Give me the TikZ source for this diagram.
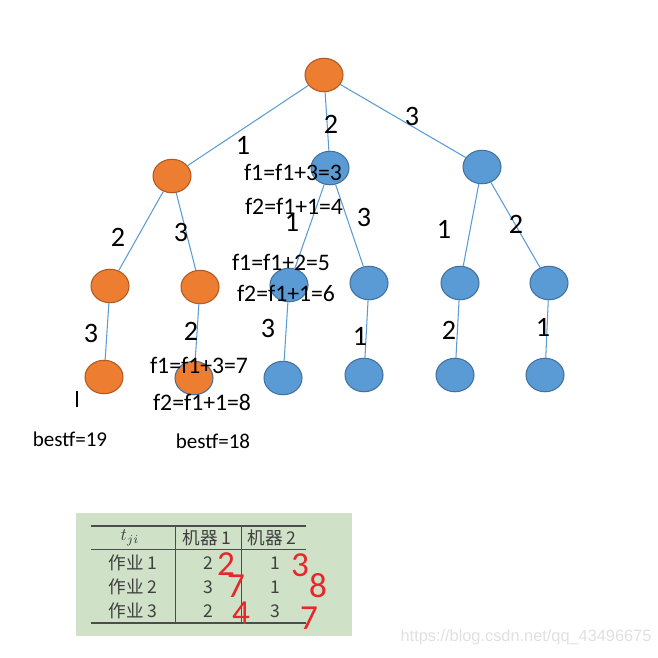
\documentclass[tikz,border=0pt]{standalone}
\usepackage{fontspec}
\setmainfont{Carlito}
\newfontfamily\cjk{Noto Sans CJK SC}
\newfontfamily\wmfont{Liberation Sans}
\usepackage{tikz}
\usetikzlibrary{shapes.geometric}

\definecolor{nodeorange}{HTML}{ED7D31}
\definecolor{edgeorange}{HTML}{AE5A21}
\definecolor{nodeblue}{HTML}{5B9BD5}
\definecolor{edgeblue}{HTML}{41719C}
\definecolor{tablegreen}{HTML}{CFE1C6}
\definecolor{inkred}{HTML}{E8262B}

\tikzset{
  onode/.style={ellipse, draw=edgeorange, fill=nodeorange, line width=0.6pt, minimum width=0.76cm, minimum height=0.67cm, inner sep=0pt},
  bnode/.style={ellipse, draw=edgeblue, fill=nodeblue, line width=0.6pt, minimum width=0.76cm, minimum height=0.67cm, inner sep=0pt},
  link/.style={draw=nodeblue, line width=0.6pt},
  weight/.style={font=\fontsize{16}{19}\selectfont, inner sep=0pt},
  calc/.style={font=\fontsize{13.5}{16}\selectfont, inner sep=0pt},
  best/.style={font=\fontsize{12}{14}\selectfont, inner sep=0pt},
  cell/.style={font=\cjk\fontsize{10}{12}\selectfont, text=black!75, inner sep=0pt},
  ink/.style={font=\fontsize{20}{22}\selectfont, text=inkred, inner sep=0pt}
}

\begin{document}
\begin{tikzpicture}[x=0.02cm, y=-0.02cm]
			\useasboundingbox (0, 0) rectangle (658, 657);
			
			% tree
			\node[onode] (r) at (324, 75) {};
			\node[onode] (a) at (172, 176) {};
			\node[bnode] (b) at (330, 168) {};
			\node[bnode] (c) at (482, 167) {};
			\node[onode] (aa) at (110, 286) {};
			\node[onode] (ab) at (200, 287) {};
			\node[bnode] (ba) at (289, 285) {};
			\node[bnode] (bb) at (369, 283) {};
			\node[bnode] (ca) at (460, 283) {};
			\node[bnode] (cb) at (549, 283) {};
			\node[onode] (aaa) at (104, 377) {};
			\node[onode, draw=edgeblue] (aba) at (194, 378) {};
			\node[bnode] (baa) at (283, 378) {};
			\node[bnode] (bba) at (364, 375) {};
			\node[bnode] (caa) at (455, 375) {};
			\node[bnode] (cba) at (545, 375) {};
			
			\draw[link] (r) -- (a);
			\draw[link] (r) -- (b);
			\draw[link] (r) -- (c);
			\draw[link] (a) -- (aa);
			\draw[link] (a) -- (ab);
			\draw[link] (b) -- (ba);
			\draw[link] (b) -- (bb);
			\draw[link] (c) -- (ca);
			\draw[link] (c) -- (cb);
			\draw[link] (aa) -- (aaa);
			\draw[link] (ab) -- (aba);
			\draw[link] (ba) -- (baa);
			\draw[link] (bb) -- (bba);
			\draw[link] (ca) -- (caa);
			\draw[link] (cb) -- (cba);
			
			% weights
			\node[weight] (w1) at (243, 145) {1};
			\node[weight] (w2) at (331, 124) {2};
			\node[weight] (w3) at (412, 116) {3};
			\node[weight] (w4) at (118, 237) {2};
			\node[weight] (w5) at (181, 232) {3};
			\node[weight] (w6) at (292, 222) {1};
			\node[weight] (w7) at (364, 217) {3};
			\node[weight] (w8) at (444, 229) {1};
			\node[weight] (w9) at (516, 224) {2};
			\node[weight] (w10) at (91, 333) {3};
			\node[weight] (w11) at (191, 331) {2};
			\node[weight] (w12) at (268, 328) {3};
			\node[weight] (w13) at (360, 336) {1};
			\node[weight] (w14) at (449, 330) {2};
			\node[weight] (w15) at (543, 327) {1};
			
			% bounds
			\node[calc] (f1b) at (293, 172) {f1=f1+3=3};
			\node[calc] (f2b) at (294, 206) {f2=f1+1=4};
			\node[calc] (f1ba) at (281, 262) {f1=f1+2=5};
			\node[calc] (f2ba) at (286, 293) {f2=f1+1=6};
			\node[calc] (f1ab) at (199, 365) {f1=f1+3=7};
			\node[calc] (f2ab) at (202, 402) {f2=f1+1=8};
			\node[best] (best1) at (70, 439) {bestf=19};
			\node[best] (best2) at (213, 441) {bestf=18};
			\coordinate (bar1) at (77, 391);
			\coordinate (bar2) at (77, 407);
			\draw[line width=1.2pt] (bar1) -- (bar2);
			
			% table
			\fill[tablegreen] (76, 513) rectangle (352, 636);
			\draw[black!70, line width=0.6pt] (91, 526) -- (306, 526);
			\draw[black!70, line width=0.5pt] (91, 549) -- (306, 549);
			\draw[black!70, line width=0.6pt] (91, 623) -- (306, 623);
			\draw[black!70, line width=0.5pt] (175, 526) -- (175, 623);
			\draw[black!70, line width=0.5pt] (241, 526) -- (241, 623);
			\node[cell] (th) at (130, 538) {$t_{ji}$};
			\node[cell] (m1) at (207, 538) {机器 1};
			\node[cell] (m2) at (272, 538) {机器 2};
			\node[cell] (j1) at (133, 563) {作业 1};
			\node[cell] (j2) at (133, 587) {作业 2};
			\node[cell] (j3) at (133, 611) {作业 3};
			\node[cell] (t11) at (208, 563) {2};
			\node[cell] (t12) at (275, 563) {1};
			\node[cell] (t21) at (208, 587) {3};
			\node[cell] (t22) at (275, 587) {1};
			\node[cell] (t31) at (208, 611) {2};
			\node[cell] (t32) at (275, 611) {3};
			
			% handwriting
			\node[ink] (h1) at (226, 564) {2};
			\node[ink] (h2) at (236, 586) {7};
			\node[ink] (h3) at (241, 613) {4};
			\node[ink] (h4) at (300, 565) {3};
			\node[ink] (h5) at (318, 586) {8};
			\node[ink] (h6) at (309, 618) {7};
			
			\node[font=\wmfont\fontsize{9.3}{11}\selectfont, text=black!12, inner sep=0pt] (wm) at (526, 637) {https://blog.csdn.net/qq\_43496675};
		\end{tikzpicture}
\end{document}
